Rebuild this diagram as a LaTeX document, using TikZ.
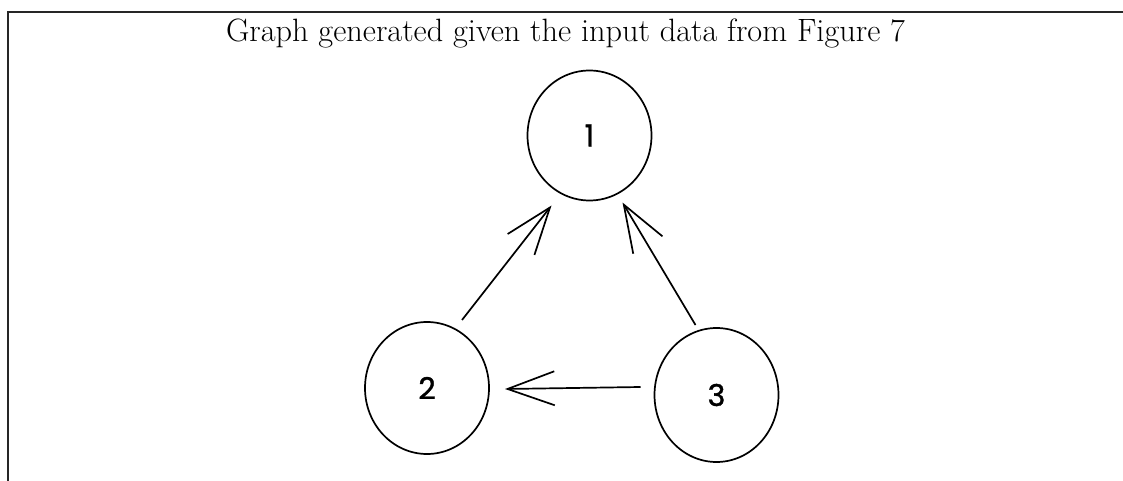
\documentclass[tikz,border=0pt]{standalone}
\usepackage{fontspec}
\newfontfamily\handfont{Poppins}[FakeBold=1.2]
\usetikzlibrary{arrows.meta,calc,shapes.geometric}
\tikzset{
  vertex/.style={draw=black, line width=1.7pt, ellipse, minimum width=124pt, minimum height=130pt, inner sep=0pt,
    font=\handfont\fontsize{30}{34}\selectfont},
  edge/.style={draw=black, line width=1.7pt, -{Straight Barb[length=47pt,width=34pt,line width=1.7pt]}},
  frame/.style={draw=black!85, line width=1.8pt}
}
\begin{document}
\begin{tikzpicture}[x=1pt,y=-1pt]
\useasboundingbox (0,0) rectangle (1123,481);
\coordinate (tl) at (8,12);
\coordinate (tr) at (1123,12);
\coordinate (bl) at (8,481);
\draw[frame] (tr) -- (tl) -- (bl);
\node[anchor=base, font=\fontsize{32.3}{38}\selectfont] (title) at (565.5,42) {Graph generated given the input data from Figure 7};
\node[vertex] (n1) at (589.5,135.5) {1};
\node[vertex, minimum height=132pt] (n2) at (427,388) {2};
\node[vertex, minimum height=134pt] (n3) at (716.5,395) {3};
\draw[edge] ($(n2)+(35,-68)$) -- ($(n1)+(-38,70)$);
\draw[edge] ($(n3)+(-21,-70)$) -- ($(n1)+(33,67)$);
\draw[edge] ($(n3)+(-76,-8)$) -- ($(n2)+(78,1)$);
\end{tikzpicture}
\end{document}
